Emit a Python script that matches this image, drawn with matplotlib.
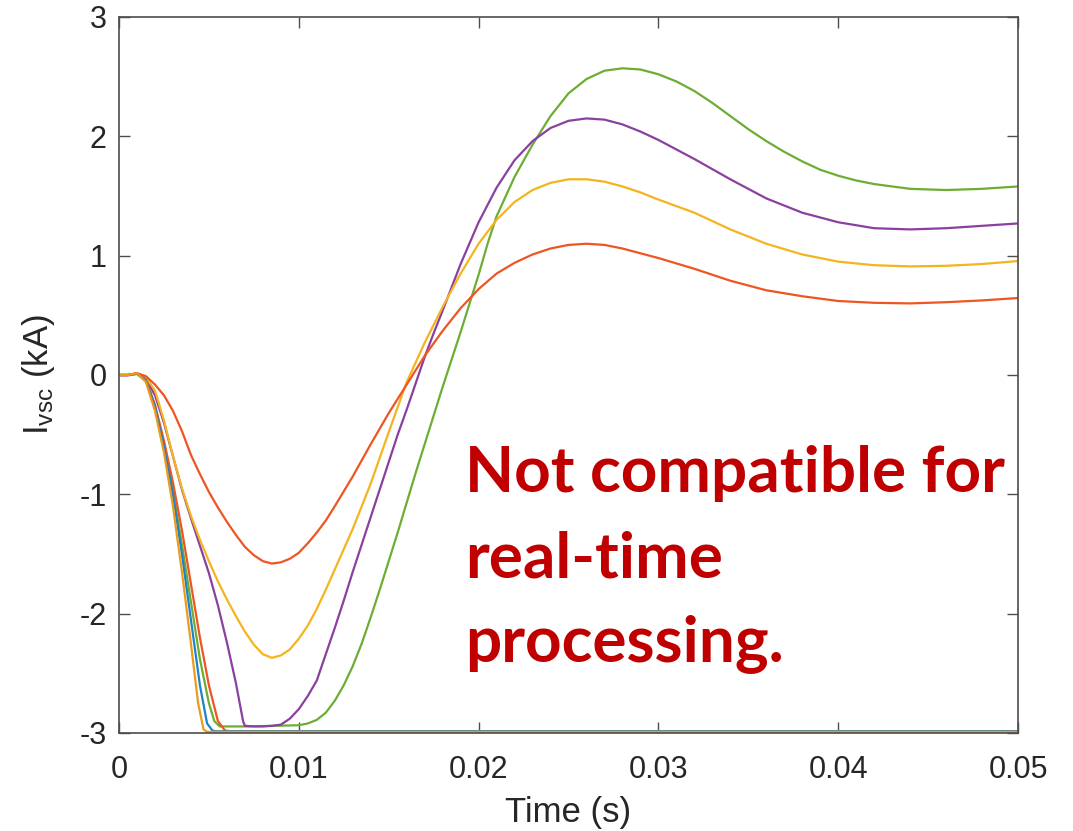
import matplotlib
matplotlib.use("Agg")
import matplotlib.pyplot as plt

# ---- data (time in s, current in kA) ----
t_red = [0, 0.0005, 0.001, 0.0015, 0.002, 0.0025, 0.003, 0.0035, 0.004, 0.0045,
         0.005, 0.0055, 0.006, 0.0065, 0.007, 0.0075, 0.008, 0.0085, 0.009, 0.0095,
         0.010, 0.0105, 0.011, 0.0115, 0.012, 0.013, 0.014, 0.015, 0.016, 0.017,
         0.018, 0.019, 0.020, 0.021, 0.022, 0.023, 0.024, 0.025, 0.026, 0.027,
         0.028, 0.029, 0.030, 0.032, 0.034, 0.036, 0.038, 0.040, 0.042, 0.044,
         0.046, 0.048, 0.050]
i_red = [0, 0.0, 0.015, -0.01, -0.08, -0.17, -0.3, -0.47, -0.67, -0.83,
         -0.98, -1.11, -1.23, -1.34, -1.44, -1.51, -1.56, -1.58, -1.57, -1.54,
         -1.49, -1.41, -1.32, -1.22, -1.1, -0.85, -0.58, -0.32, -0.08, 0.16,
         0.37, 0.56, 0.72, 0.85, 0.94, 1.01, 1.06, 1.09, 1.10, 1.09,
         1.06, 1.02, 0.98, 0.89, 0.79, 0.71, 0.66, 0.62, 0.605, 0.60,
         0.61, 0.625, 0.645]

t_yellow = [0, 0.0005, 0.001, 0.0015, 0.002, 0.0025, 0.003, 0.0035, 0.004, 0.0045,
            0.005, 0.0055, 0.006, 0.0065, 0.007, 0.0075, 0.008, 0.0085, 0.009, 0.0095,
            0.010, 0.0105, 0.011, 0.0115, 0.012, 0.0125, 0.013, 0.0135, 0.014, 0.015,
            0.016, 0.017, 0.018, 0.019, 0.020, 0.021, 0.022, 0.023, 0.024, 0.025,
            0.026, 0.027, 0.028, 0.029, 0.030, 0.032, 0.034, 0.036, 0.038, 0.040,
            0.042, 0.044, 0.046, 0.048, 0.050]
i_yellow = [0, 0.0, 0.015, -0.02, -0.13, -0.38, -0.68, -0.95, -1.18, -1.38,
            -1.56, -1.73, -1.88, -2.02, -2.15, -2.26, -2.34, -2.37, -2.35, -2.3,
            -2.21, -2.1, -1.96, -1.8, -1.63, -1.46, -1.29, -1.1, -0.91, -0.48,
            -0.06, 0.27, 0.57, 0.85, 1.1, 1.3, 1.45, 1.55, 1.61, 1.64,
            1.64, 1.62, 1.58, 1.53, 1.47, 1.36, 1.22, 1.1, 1.01, 0.95,
            0.92, 0.91, 0.915, 0.93, 0.955]

t_purple = [0, 0.0005, 0.001, 0.0015, 0.002, 0.0025, 0.003, 0.0035, 0.004, 0.0045,
            0.005, 0.0055, 0.006, 0.0065, 0.0069, 0.007, 0.0075, 0.008, 0.0085, 0.009,
            0.0095, 0.010, 0.0105, 0.011, 0.0115, 0.012, 0.0125, 0.013, 0.0135, 0.014,
            0.0145, 0.015, 0.0155, 0.016, 0.0165, 0.017, 0.0175, 0.018, 0.019, 0.020,
            0.021, 0.022, 0.023, 0.024, 0.025, 0.026, 0.027, 0.028, 0.029, 0.030,
            0.032, 0.034, 0.036, 0.038, 0.040, 0.042, 0.044, 0.046, 0.048, 0.050]
i_purple = [0, 0.0, 0.01, -0.03, -0.17, -0.4, -0.68, -0.96, -1.2, -1.43,
            -1.66, -1.93, -2.24, -2.58, -2.9, -2.94, -2.945, -2.945, -2.94, -2.93,
            -2.88, -2.8, -2.69, -2.56, -2.34, -2.12, -1.89, -1.65, -1.42, -1.19,
            -0.96, -0.73, -0.5, -0.29, -0.07, 0.15, 0.35, 0.54, 0.93, 1.28,
            1.57, 1.8, 1.96, 2.07, 2.13, 2.15, 2.14, 2.1, 2.04, 1.97,
            1.81, 1.64, 1.48, 1.36, 1.28, 1.23, 1.22, 1.23, 1.25, 1.27]

t_green = [0, 0.0005, 0.001, 0.0015, 0.002, 0.0025, 0.003, 0.0035, 0.004, 0.0045,
           0.005, 0.0053, 0.0056, 0.007, 0.0085, 0.010, 0.0105, 0.011, 0.0115, 0.012,
           0.0125, 0.013, 0.0135, 0.014, 0.0145, 0.015, 0.0155, 0.016, 0.0165, 0.017,
           0.0175, 0.018, 0.0185, 0.019, 0.0195, 0.020, 0.0205, 0.021, 0.022, 0.023,
           0.024, 0.025, 0.026, 0.027, 0.028, 0.029, 0.030, 0.031, 0.032, 0.033,
           0.034, 0.035, 0.036, 0.037, 0.038, 0.039, 0.040, 0.041, 0.042, 0.044,
           0.046, 0.048, 0.050]
i_green = [0, 0.0, 0.01, -0.05, -0.26, -0.58, -0.97, -1.42, -1.9, -2.38,
           -2.75, -2.9, -2.945, -2.945, -2.94, -2.935, -2.92, -2.89, -2.83, -2.73,
           -2.6, -2.44, -2.25, -2.03, -1.8, -1.56, -1.32, -1.07, -0.82, -0.58,
           -0.34, -0.1, 0.13, 0.36, 0.6, 0.84, 1.1, 1.33, 1.66, 1.93,
           2.17, 2.36, 2.48, 2.55, 2.57, 2.56, 2.52, 2.46, 2.38, 2.28,
           2.17, 2.06, 1.96, 1.87, 1.79, 1.72, 1.67, 1.63, 1.6, 1.56,
           1.55, 1.56, 1.58]

# fast cases that hit the -3 kA limit and stay there
t_sat_red = [0, 0.0005, 0.001, 0.0015, 0.002, 0.0025, 0.003, 0.0035, 0.004,
             0.0045, 0.005, 0.0055, 0.0059, 0.0062, 0.05]
i_sat_red = [0, 0.0, 0.015, -0.04, -0.25, -0.55, -0.9, -1.3, -1.75,
             -2.2, -2.6, -2.9, -2.98, -2.985, -2.985]

t_sat_blue = [0, 0.0005, 0.001, 0.0015, 0.002, 0.0025, 0.003, 0.0035, 0.004,
              0.0045, 0.0049, 0.0052, 0.0054, 0.05]
i_sat_blue = [0, 0.0, 0.01, -0.05, -0.27, -0.6, -1.0, -1.5, -2.05,
              -2.6, -2.92, -2.98, -2.985, -2.985]

t_sat_orange = [0, 0.0005, 0.001, 0.0015, 0.002, 0.0025, 0.003, 0.0035, 0.004,
                0.0044, 0.0047, 0.0049, 0.006, 0.05]
i_sat_orange = [0, 0.0, 0.015, -0.06, -0.3, -0.65, -1.1, -1.65, -2.25,
                -2.75, -2.97, -2.99, -2.99, -2.99]

x_ticks = [0, 0.01, 0.02, 0.03, 0.04, 0.05]
x_labels = ["0", "0.01", "0.02", "0.03", "0.04", "0.05"]
y_ticks = [-3, -2, -1, 0, 1, 2, 3]

note = ["Not compatible for", "real-time", "processing."]

plt.rcParams['font.family'] = ['Liberation Sans', 'DejaVu Sans']
plt.rcParams['axes.unicode_minus'] = False

fig = plt.figure(figsize=(10.73, 8.31), dpi=100)
ax = fig.add_axes([119 / 1073, 98 / 831, 899 / 1073, 716 / 831])

lw = 1.6
ax.plot(t_green, i_green, color='#6DAD33', lw=lw)
ax.plot(t_purple, i_purple, color='#8B3F9E', lw=lw)
ax.plot(t_yellow, i_yellow, color='#F4B41E', lw=lw)
ax.plot(t_red, i_red, color='#EE5522', lw=lw)
ax.plot(t_sat_red, i_sat_red, color='#EE5522', lw=lw)
ax.plot(t_sat_blue, i_sat_blue, color='#1D84C6', lw=lw)
ax.plot(t_sat_orange, i_sat_orange, color='#EE9B1C', lw=lw)

ax.set_xlim(0, 0.05)
ax.set_ylim(-3, 3)
ax.set_xticks(x_ticks)
ax.set_xticklabels(x_labels)
ax.set_yticks(y_ticks)

for sp in ax.spines.values():
    sp.set_color('#4d4d4d')
    sp.set_linewidth(1.2)
ax.tick_params(direction='in', top=True, right=True, length=8, width=1,
               color='#4d4d4d', labelsize=22, labelcolor='#262626')
ax.tick_params(axis='x', pad=16)
ax.tick_params(axis='y', pad=9)

ax.set_xlabel('Time (s)', fontsize=25, color='#262626', labelpad=8)
ax.set_ylabel(r'$\mathregular{I_{vsc}}$ (kA)', fontsize=25, color='#262626', labelpad=16)

# annotation text in bold red
baselines = [492, 577, 661]
for line, yb in zip(note, baselines):
    fig.text(465 / 1073, 1 - yb / 831, line, fontsize=46, fontweight='bold',
             family=['Lato', 'DejaVu Sans'], color='#C00000', va='baseline', ha='left')

fig.savefig('out.png', dpi=100)
